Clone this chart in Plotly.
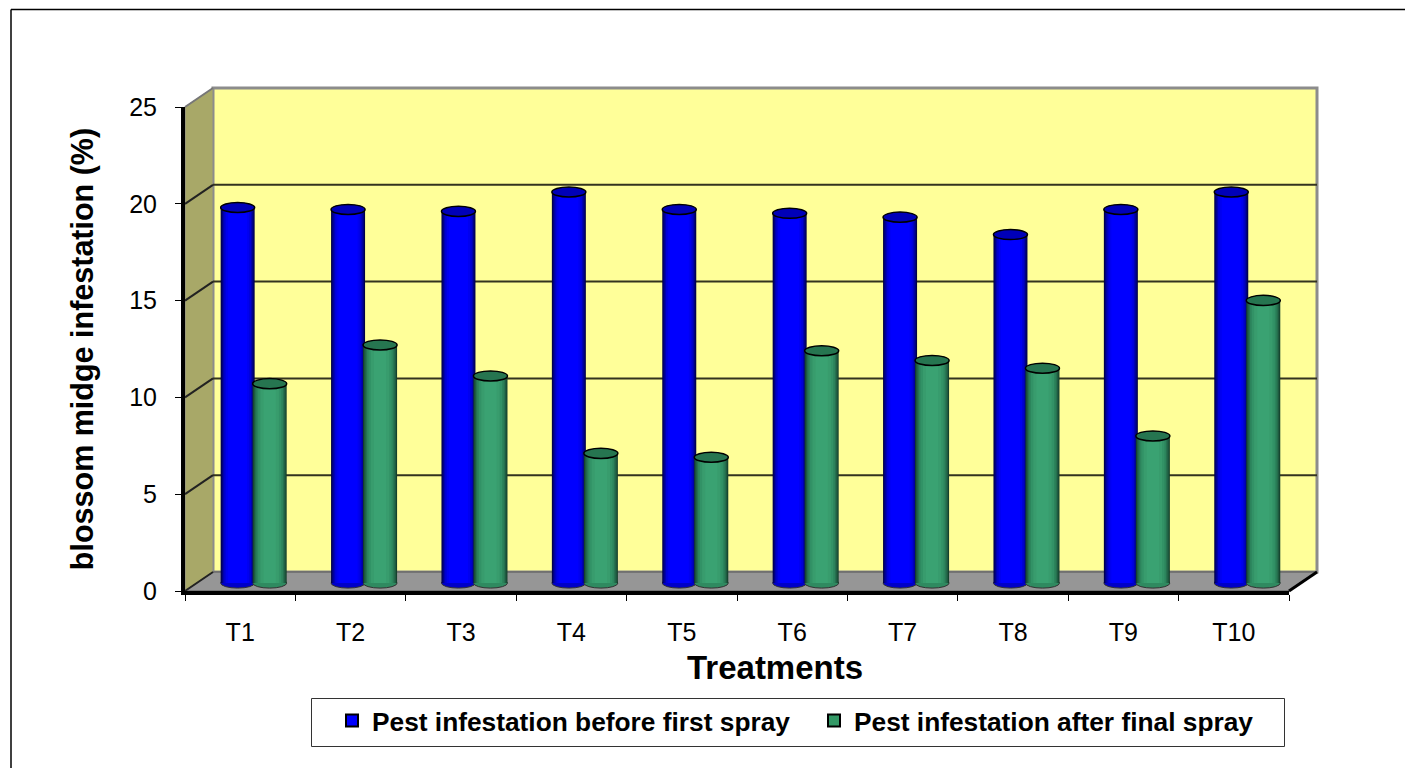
import plotly.graph_objects as go

categories = ['T1', 'T2', 'T3', 'T4', 'T5', 'T6', 'T7', 'T8', 'T9', 'T10']
before_spray = [19.4, 19.3, 19.2, 20.2, 19.3, 19.1, 18.9, 18.0, 19.3, 20.2]
after_spray = [10.3, 12.3, 10.7, 6.7, 6.5, 12.0, 11.5, 11.1, 7.6, 14.6]
y_ticks = [0, 5, 10, 15, 20, 25]

# 3D look: depth of the box as a share of the plot area
depth_x = 28 / 1104
depth_y = 19 / 484
floor_gap = 0.41  # bars stand in the middle of the floor
bar_width = 0.308
blue_offset = -0.177
green_offset = 0.113
ellipse_h = 0.26

# cylinder shading, outer strip to inner strip (inset as a share of bar width)
blue_shades = [(0.0, '#00004a'), (0.03, '#000080'), (0.07, '#0000b0'), (0.11, '#0000d8'), (0.16, '#0000f0'),
               (0.22, '#0000ff')]
green_shades = [(0.0, '#15402b'), (0.03, '#1e5a40'), (0.07, '#26714f'), (0.11, '#2c845c'), (0.16, '#329266'),
                (0.23, '#389c6d'), (0.32, '#3aa272')]

fig = go.Figure()


def add_cylinder(name, values, offset, shades):
    for i, (inset, color) in enumerate(shades):
        fig.add_trace(go.Bar(
            x=categories, y=values, base=floor_gap, name=name,
            offset=offset + bar_width * inset,
            width=bar_width * (1 - 2 * inset),
            marker=dict(color=color, line=dict(width=0)),
            showlegend=False,
        ))


# legend swatches only, the real bars are the layered ones below
fig.add_trace(go.Bar(x=categories, y=[None] * 10, name='Pest infestation before first spray',
                     marker=dict(color='#0000ff', line=dict(color='black', width=2))))
fig.add_trace(go.Bar(x=categories, y=[None] * 10, name='Pest infestation after final spray',
                     marker=dict(color='#339966', line=dict(color='black', width=2))))
add_cylinder('before', before_spray, blue_offset, blue_shades)
add_cylinder('after', after_spray, green_offset, green_shades)

shapes = []
# back wall
shapes.append(dict(type='rect', xref='paper', yref='paper', layer='below',
                   x0=depth_x, x1=1 + depth_x, y0=depth_y, y1=1 + depth_y,
                   fillcolor='#ffff99', line=dict(color='#8c8c8c', width=3)))
# side wall
shapes.append(dict(type='path', xref='paper', yref='paper', layer='below',
                   path=f'M0,0 L{depth_x},{depth_y} L{depth_x},{1 + depth_y} L0,1 Z',
                   fillcolor='#a8a868', line=dict(color='#8c8c8c', width=1)))
# floor
shapes.append(dict(type='path', xref='paper', yref='paper', layer='below',
                   path=f'M0,0 L{depth_x},{depth_y} L{1 + depth_x},{depth_y} L1,0 Z',
                   fillcolor='#969696', line=dict(color='#555555', width=1)))
# gridlines on the walls
for t in y_ticks:
    p = t / 25
    if 0 < t < 25:
        shapes.append(dict(type='line', xref='paper', yref='paper', layer='below',
                           x0=depth_x, x1=1 + depth_x, y0=p + depth_y, y1=p + depth_y,
                           line=dict(color='#33331f', width=2)))
    if t < 25:
        shapes.append(dict(type='line', xref='paper', yref='paper', layer='below',
                           x0=0, x1=depth_x, y0=p, y1=p + depth_y,
                           line=dict(color='#222222', width=2)))
shapes.append(dict(type='line', xref='paper', yref='paper', layer='below',
                   x0=0, x1=depth_x, y0=1, y1=1 + depth_y, line=dict(color='#777777', width=2)))
shapes.append(dict(type='line', xref='paper', yref='paper', layer='above',
                   x0=1, x1=1 + depth_x, y0=0, y1=depth_y, line=dict(color='black', width=3)))

# cylinder bottoms and tops
for values, offset, top_color, body_color in [
    (before_spray, blue_offset, '#0000b8', '#0000c8'),
    (after_spray, green_offset, '#267550', '#2f8a60'),
]:
    for i, v in enumerate(values):
        x0 = i + offset
        x1 = x0 + bar_width
        shapes.append(dict(type='circle', xref='x', yref='y', layer='below',
                           x0=x0, x1=x1, y0=floor_gap - ellipse_h, y1=floor_gap + ellipse_h,
                           fillcolor=body_color, line=dict(color='#333333', width=1)))
        shapes.append(dict(type='circle', xref='x', yref='y', layer='above',
                           x0=x0, x1=x1, y0=floor_gap + v - ellipse_h, y1=floor_gap + v + ellipse_h,
                           fillcolor=top_color, line=dict(color='black', width=1.5)))

# outer frame and legend box
shapes.append(dict(type='line', xref='paper', yref='paper', layer='above',
                   x0=-174 / 1104, x1=1228 / 1104, y0=(591 - 9.5) / 484, y1=(591 - 9.5) / 484,
                   line=dict(color='black', width=1.5)))
shapes.append(dict(type='line', xref='paper', yref='paper', layer='above',
                   x0=-174 / 1104, x1=-174 / 1104, y0=(591 - 9.5) / 484, y1=(591 - 768) / 484,
                   line=dict(color='black', width=1.5)))
shapes.append(dict(type='rect', xref='paper', yref='paper', layer='below',
                   x0=(311.5 - 185) / 1104, x1=(1284.5 - 185) / 1104,
                   y0=(591 - 746.5) / 484, y1=(591 - 698.5) / 484,
                   fillcolor='white', line=dict(color='#333333', width=1)))

# the page has an 8px body margin, so the figure is 8px smaller than the window
fig.update_layout(
    width=1405, height=760,
    margin=dict(l=177, r=124, t=99, b=177),
    paper_bgcolor='white', plot_bgcolor='rgba(0,0,0,0)',
    barmode='overlay',
    font=dict(family='Liberation Sans', color='black'),
    shapes=shapes,
    legend=dict(
        orientation='h', x=(332 - 185) / 1104, xanchor='left',
        y=(591 - 721) / 484, yanchor='middle',
        bgcolor='rgba(0,0,0,0)', borderwidth=0,
        font=dict(size=26.3, family='Liberation Sans', weight='bold'),
        entrywidth=437, entrywidthmode='pixels', itemclick=False,
    ),
    # x title sits right of the axis centre in the reference, so it is an annotation
    annotations=[dict(text='<b>Treatments</b>', xref='paper', yref='paper', showarrow=False,
                      x=(775 - 185) / 1104, y=(591 - 667) / 484, xanchor='center', yanchor='middle',
                      font=dict(size=33))],
)
fig.update_xaxes(
    type='category', categoryorder='array', categoryarray=categories,
    range=[-0.5, 9.5], tickson='boundaries', ticks='outside', ticklen=6, tickcolor='black',
    tickfont=dict(size=25), ticklabelstandoff=16, showgrid=False, zeroline=False,
    showline=True, linecolor='black', linewidth=4,
)
fig.update_yaxes(
    range=[0, 25], tickvals=y_ticks, ticks='outside', ticklen=6, tickcolor='black',
    tickfont=dict(size=25), ticklabelstandoff=13, showgrid=False, zeroline=False,
    showline=True, linecolor='black', linewidth=4,
    title=dict(text='<b>blossom midge infestation (%)</b>', font=dict(size=30.5), standoff=28),
)

fig.write_html("out.html")
